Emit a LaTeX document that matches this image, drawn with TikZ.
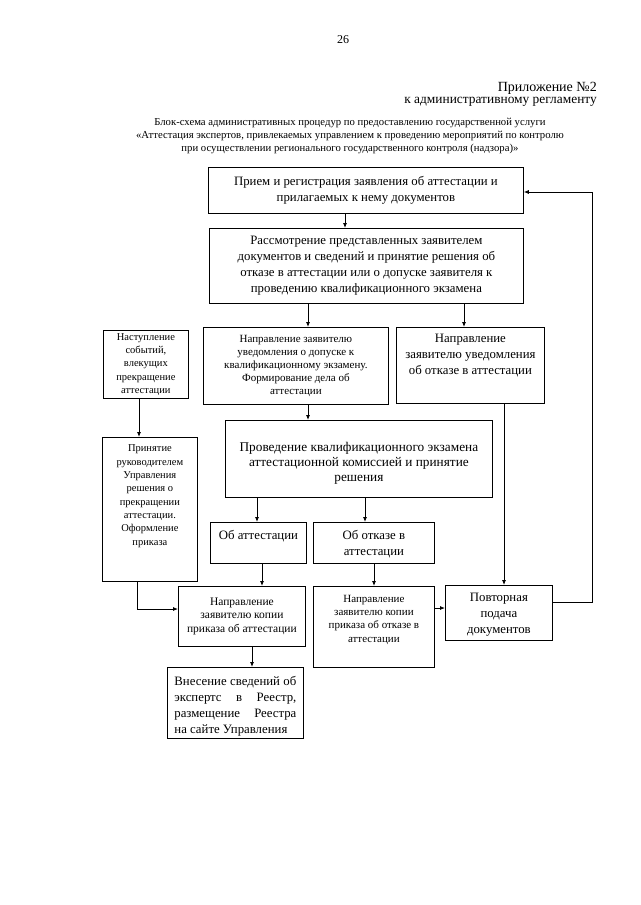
\documentclass[tikz,border=0pt]{standalone}
\usepackage{fontspec}
\setmainfont{Liberation Serif}
\usetikzlibrary{arrows.meta}
\newcommand\fbig{\fontsize{12.8}{16}\selectfont}
\newcommand\fmid{\fontsize{11}{13.2}\selectfont}
\newcommand\fsml{\fontsize{10.5}{13.3}\selectfont}
\newcommand\bx[4]{\parbox[c][#2][#3]{#1}{\centering #4\par}}
\begin{document}
\begin{tikzpicture}[x=1pt,y=-1pt,
  box/.style={draw, line width=0.8pt, inner sep=0pt, anchor=north west},
  arr/.style={line width=0.8pt, -{Latex[length=5pt,width=4pt]}},
  plain/.style={inner sep=0pt}]
\useasboundingbox (0,0) rectangle (640,905);
\fill[white] (0,0) rectangle (640,905);

% header
\node[plain, font=\fontsize{12}{14}\selectfont] (pg) at (343,40) {26};
\node[plain, anchor=east, font=\fontsize{14}{16}\selectfont] (pr1) at (597,88) {Приложение №2};
\node[plain, anchor=east, font=\fontsize{13.4}{16}\selectfont] (pr2) at (597,102) {к административному регламенту};
\node[plain, align=center, font=\fontsize{10.7}{12.7}\selectfont] (ttl) at (350,136)
  {Блок-схема административных процедур по предоставлению государственной услуги\\
   «Аттестация экспертов, привлекаемых управлением к проведению мероприятий по контролю\\
   при осуществлении регионального государственного контроля (надзора)»};

% boxes
\node[box] (b1) at (208,167) {\bx{315pt}{46pt}{c}{\fbig Прием и регистрация заявления об аттестации и\\ прилагаемых к нему документов}};
\node[box] (b2) at (209,228) {\bx{314pt}{75pt}{c}{\fbig Рассмотрение представленных заявителем\\ документов и сведений и принятие решения об\\ отказе в аттестации или о допуске заявителя к\\ проведению квалификационного экзамена}};
\node[box] (b0) at (103,330) {\bx{85pt}{68pt}{c}{\fsml Наступление\\ событий,\\ влекущих\\ прекращение\\ аттестации}};
\node[box] (b3) at (203,327) {\bx{185pt}{77pt}{c}{\fmid Направление заявителю\\ уведомления о допуске к\\ квалификационному экзамену.\\ Формирование дела об\\ аттестации}};
\node[box] (b4) at (396,327) {\bx{148pt}{76pt}{t}{\fbig\rule{0pt}{15pt}Направление\\ заявителю уведомления\\ об отказе в аттестации}};
\node[box] (b5) at (102,437) {\bx{95pt}{144pt}{t}{\fsml\rule{0pt}{14.5pt}Принятие\\ руководителем\\ Управления\\ решения о\\ прекращении\\ аттестации.\\ Оформление\\ приказа}};
\node[box] (b6) at (225,420) {\bx{267pt}{77pt}{t}{\fontsize{13.3}{15}\selectfont\rule{0pt}{31pt}Проведение квалификационного экзамена\\ аттестационной комиссией и принятие\\ решения}};
\node[box] (b7a) at (210,522) {\bx{96pt}{41pt}{t}{\fbig\rule{0pt}{17pt}Об аттестации}};
\node[box] (b7b) at (313,522) {\bx{121pt}{41pt}{t}{\fbig\rule{0pt}{17pt}Об отказе в\\ аттестации}};
\node[box] (b8) at (178,586) {\bx{127pt}{60pt}{c}{\fontsize{11.5}{13.5}\selectfont Направление\\ заявителю копии\\ приказа об аттестации}};
\node[box] (b9) at (313,586) {\bx{121pt}{81pt}{t}{\fmid\rule{0pt}{16pt}Направление\\ заявителю копии\\ приказа об отказе в\\ аттестации}};
\node[box] (b10) at (445,585) {\bx{107pt}{55pt}{t}{\fbig\rule{0pt}{16pt}Повторная\\ подача\\ документов}};
\node[box, inner xsep=7pt, inner ysep=0pt, minimum height=71pt] (b11) at (167,667)
  {\parbox{122pt}{\fbig\rule{0pt}{16pt}%
   \makebox[\linewidth][s]{Внесение сведений об}\par
   \makebox[\linewidth][s]{экспертс \hfill в \hfill Реестр,}\par
   \makebox[\linewidth][s]{размещение \hfill Реестра}\par
   на сайте Управления}};

% helper coordinates
\coordinate (c345) at (345,0);
\coordinate (c308) at (308,0);
\coordinate (c464) at (464,0);
\coordinate (c139) at (139,0);
\coordinate (c257) at (257,0);
\coordinate (c365) at (365,0);
\coordinate (c504) at (504,0);
\coordinate (c262) at (262,0);
\coordinate (c374) at (374,0);
\coordinate (c252) at (252,0);
\coordinate (k5) at (137,609);
\coordinate (r608) at (0,608);
\coordinate (lb) at (592,602);
\coordinate (lt) at (592,192);

% connectors
\draw[arr] (b1.south -| c345) -- (b2.north -| c345);
\draw[arr] (b2.south -| c308) -- (b3.north -| c308);
\draw[arr] (b2.south -| c464) -- (b4.north -| c464);
\draw[arr] (b0.south -| c139) -- (b5.north -| c139);
\draw[arr] (b3.south -| c308) -- (b6.north -| c308);
\draw[arr] (b6.south -| c257) -- (b7a.north -| c257);
\draw[arr] (b6.south -| c365) -- (b7b.north -| c365);
\draw[arr] (b4.south -| c504) -- (b10.north -| c504);
\draw[arr] (b7a.south -| c262) -- (b8.north -| c262);
\draw[arr] (b7b.south -| c374) -- (b9.north -| c374);
\draw[arr] (b8.south -| c252) -- (b11.north -| c252);
\draw[arr] (b5.south -| k5) -- (k5) -- (b8.west |- k5);
\draw[arr] (b9.east |- r608) -- (b10.west |- r608);
\draw[arr] (b10.east |- lb) -- (lb) -- (lt) -- (b1.east |- lt);
\end{tikzpicture}
\end{document}
